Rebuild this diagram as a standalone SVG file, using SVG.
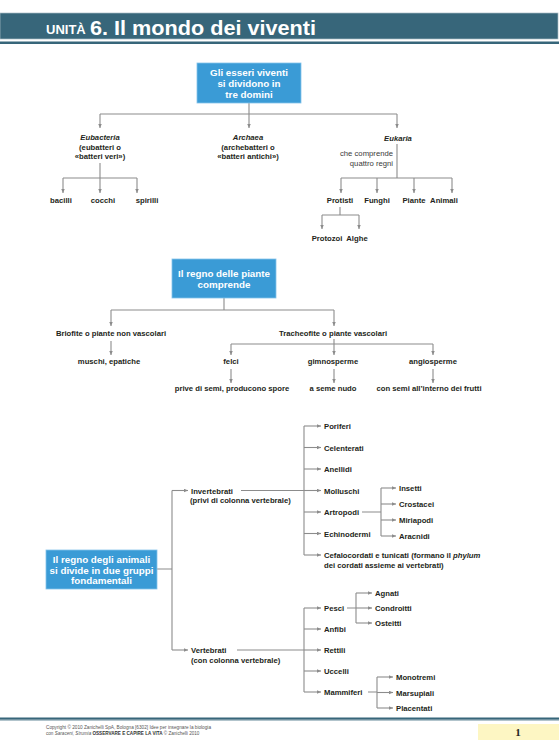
<svg xmlns="http://www.w3.org/2000/svg" width="559" height="755" viewBox="0 0 559 755">
<defs>
<style>
.t{font-family:"Liberation Sans",Arial,sans-serif;font-size:7.7px;font-weight:bold;fill:#231f20}
.m{text-anchor:middle}
.i{font-style:italic}
.r{font-weight:normal;fill:#3a3a3a}
.box{fill:#3a9bd6;stroke:#86c3ea;stroke-width:0.8}
.bt{font-family:"Liberation Sans",Arial,sans-serif;font-size:9.8px;font-weight:bold;fill:#ffffff;text-anchor:middle}
.c{stroke:#8c8c8c;stroke-width:1.1;fill:none}
.a{stroke:#8c8c8c;stroke-width:1.1;fill:none;marker-end:url(#ah)}
.ft{font-family:"Liberation Sans",Arial,sans-serif;font-size:4.6px;fill:#555}
</style>
<marker id="ah" markerUnits="userSpaceOnUse" markerWidth="5" markerHeight="4" refX="4.5" refY="2" orient="auto">
<path d="M0,0 L4.5,2 L0,4 z" fill="#8c8c8c"/>
</marker>
</defs>
<rect width="559" height="755" fill="#ffffff"/>

<g id="header">
<rect x="0" y="13" width="558" height="26" fill="#37667a" stroke="#a9bcc5" stroke-width="0.7"/>
<rect x="0" y="41.5" width="559" height="2.5" fill="#37667a"/>
<text x="46" y="34" font-family="'Liberation Sans',Arial,sans-serif" font-size="13" font-weight="bold" fill="#ffffff">UNITÀ</text>
<text x="90" y="34.5" font-family="'Liberation Sans',Arial,sans-serif" font-size="21" font-weight="bold" fill="#ffffff" textLength="226" lengthAdjust="spacingAndGlyphs">6. Il mondo dei viventi</text>
</g>

<g id="connectors">
<!-- domains -->
<path class="c" d="M249,103 V114 M100,114 H397"/>
<path class="a" d="M100,114 V128"/>
<path class="a" d="M249,114 V128"/>
<path class="a" d="M397,114 V128"/>
<path class="c" d="M100,163 V178 M63,178 H137"/>
<path class="a" d="M63,178 V193"/>
<path class="a" d="M100,178 V193"/>
<path class="a" d="M137,178 V193"/>
<path class="c" d="M397,144 V178 M341,178 H452"/>
<path class="a" d="M341,178 V193"/>
<path class="a" d="M377,178 V193"/>
<path class="a" d="M414,178 V193"/>
<path class="a" d="M452,178 V193"/>
<path class="c" d="M340,207 V215 M322,215 H359"/>
<path class="a" d="M322,215 V229"/>
<path class="a" d="M359,215 V229"/>
<!-- plants -->
<path class="c" d="M224,298 V310 M111,310 H334"/>
<path class="a" d="M111,310 V326"/>
<path class="a" d="M334,310 V326"/>
<path class="a" d="M111,341 V355"/>
<path class="c" d="M334,339 V344 M231,344 H433"/>
<path class="a" d="M231,344 V355"/>
<path class="a" d="M334,344 V355"/>
<path class="a" d="M433,344 V355"/>
<path class="a" d="M231,369 V383"/>
<path class="a" d="M334,369 V383"/>
<path class="a" d="M433,369 V383"/>
<!-- animals -->
<path class="c" d="M157,569 H172 M172,490.5 V650"/>
<path class="a" d="M172,490.5 H188"/>
<path class="a" d="M172,650 H188"/>
<path class="c" d="M241,490.5 H304 M304,426 V555"/>
<path class="a" d="M304,426 H321"/>
<path class="a" d="M304,447.5 H321"/>
<path class="a" d="M304,469 H321"/>
<path class="a" d="M304,490.5 H321"/>
<path class="a" d="M304,512 H321"/>
<path class="a" d="M304,533.5 H321"/>
<path class="a" d="M304,555 H321"/>
<path class="c" d="M362,512 H381 M381,488 V536"/>
<path class="a" d="M381,488 H396"/>
<path class="a" d="M381,504 H396"/>
<path class="a" d="M381,520 H396"/>
<path class="a" d="M381,536 H396"/>
<path class="c" d="M237,650 H304 M304,608 V692"/>
<path class="a" d="M304,608 H321"/>
<path class="a" d="M304,629 H321"/>
<path class="a" d="M304,650 H321"/>
<path class="a" d="M304,671 H321"/>
<path class="a" d="M304,692 H321"/>
<path class="c" d="M347,608 H356 M356,593 V623"/>
<path class="a" d="M356,593 H372"/>
<path class="a" d="M356,608 H372"/>
<path class="a" d="M356,623 H372"/>
<path class="c" d="M368,692 H377 M377,677 V708"/>
<path class="a" d="M377,677 H393"/>
<path class="a" d="M377,692.5 H393"/>
<path class="a" d="M377,708 H393"/>
</g>

<g id="n-domini">
<rect class="box" x="197" y="63" width="104" height="40"/>
<text class="bt" x="249" y="76">Gli esseri viventi</text>
<text class="bt" x="249" y="87">si dividono in</text>
<text class="bt" x="249" y="98">tre domini</text>
</g>
<g id="n-eubacteria">
<text class="t m i" x="100" y="140">Eubacteria</text>
<text class="t m" x="100" y="150">(eubatteri o</text>
<text class="t m" x="100" y="159">«batteri veri»)</text>
</g>
<g id="n-archaea">
<text class="t m i" x="248" y="140">Archaea</text>
<text class="t m" x="248" y="150">(archebatteri o</text>
<text class="t m" x="248" y="159">«batteri antichi»)</text>
</g>
<g id="n-eukaria">
<text class="t m i" x="398" y="141">Eukaria</text>
<text class="t r" x="393" y="156" text-anchor="end">che comprende</text>
<text class="t r" x="393" y="166" text-anchor="end">quattro regni</text>
</g>
<g id="n-bacilli"><text class="t m" x="61" y="203">bacilli</text></g>
<g id="n-cocchi"><text class="t m" x="103" y="203">cocchi</text></g>
<g id="n-spirilli"><text class="t m" x="147" y="203">spirilli</text></g>
<g id="n-protisti"><text class="t m" x="340" y="203">Protisti</text></g>
<g id="n-funghi"><text class="t m" x="377" y="203">Funghi</text></g>
<g id="n-piante"><text class="t m" x="414" y="203">Piante</text></g>
<g id="n-animali"><text class="t m" x="444" y="203">Animali</text></g>
<g id="n-protozoi"><text class="t m" x="327" y="241">Protozoi</text></g>
<g id="n-alghe"><text class="t m" x="357" y="241">Alghe</text></g>

<g id="n-regno-piante">
<rect class="box" x="172" y="259" width="104" height="39"/>
<text class="bt" x="224" y="276.5">Il regno delle piante</text>
<text class="bt" x="224" y="287.5">comprende</text>
</g>
<g id="n-briofite"><text class="t m" x="111" y="336">Briofite o piante non vascolari</text></g>
<g id="n-muschi"><text class="t m" x="109" y="364">muschi, epatiche</text></g>
<g id="n-tracheofite"><text class="t m" x="333" y="336">Tracheofite o piante vascolari</text></g>
<g id="n-felci"><text class="t m" x="231" y="364">felci</text></g>
<g id="n-gimnosperme"><text class="t m" x="333" y="364">gimnosperme</text></g>
<g id="n-angiosperme"><text class="t m" x="433" y="364">angiosperme</text></g>
<g id="n-prive"><text class="t m" x="232" y="391">prive di semi, producono spore</text></g>
<g id="n-seme-nudo"><text class="t m" x="333" y="391">a seme nudo</text></g>
<g id="n-con-semi"><text class="t m" x="429" y="391">con semi all’interno dei frutti</text></g>

<g id="n-regno-animali">
<rect class="box" x="46" y="550" width="111" height="39"/>
<text class="bt" x="101.5" y="562.5">Il regno degli animali</text>
<text class="bt" x="101.5" y="573.5">si divide in due gruppi</text>
<text class="bt" x="101.5" y="583.5">fondamentali</text>
</g>
<g id="n-invertebrati">
<text class="t" x="191" y="493.5">Invertebrati</text>
<text class="t" x="190" y="503">(privi di colonna vertebrale)</text>
</g>
<g id="n-poriferi"><text class="t" x="324" y="429">Poriferi</text></g>
<g id="n-celenterati"><text class="t" x="324" y="450.5">Celenterati</text></g>
<g id="n-anellidi"><text class="t" x="324" y="472">Anellidi</text></g>
<g id="n-molluschi"><text class="t" x="324" y="493.5">Molluschi</text></g>
<g id="n-artropodi"><text class="t" x="324" y="515">Artropodi</text></g>
<g id="n-echinodermi"><text class="t" x="324" y="536.5">Echinodermi</text></g>
<g id="n-cefalocordati">
<text class="t" x="324" y="558">Cefalocordati e tunicati (formano il <tspan class="i">phylum</tspan></text>
<text class="t" x="324" y="567.5">dei cordati assieme ai vertebrati)</text>
</g>
<g id="n-insetti"><text class="t" x="399" y="491">Insetti</text></g>
<g id="n-crostacei"><text class="t" x="399" y="507">Crostacei</text></g>
<g id="n-miriapodi"><text class="t" x="399" y="523">Miriapodi</text></g>
<g id="n-aracnidi"><text class="t" x="399" y="539">Aracnidi</text></g>
<g id="n-vertebrati">
<text class="t" x="191" y="653">Vertebrati</text>
<text class="t" x="191" y="663">(con colonna vertebrale)</text>
</g>
<g id="n-pesci"><text class="t" x="324" y="611">Pesci</text></g>
<g id="n-anfibi"><text class="t" x="324" y="632">Anfibi</text></g>
<g id="n-rettili"><text class="t" x="324" y="653">Rettili</text></g>
<g id="n-uccelli"><text class="t" x="324" y="674">Uccelli</text></g>
<g id="n-mammiferi"><text class="t" x="324" y="695">Mammiferi</text></g>
<g id="n-agnati"><text class="t" x="375" y="596">Agnati</text></g>
<g id="n-condroitti"><text class="t" x="375" y="611">Condroitti</text></g>
<g id="n-osteitti"><text class="t" x="375" y="626">Osteitti</text></g>
<g id="n-monotremi"><text class="t" x="396" y="680">Monotremi</text></g>
<g id="n-marsupiali"><text class="t" x="396" y="695.5">Marsupiali</text></g>
<g id="n-placentati"><text class="t" x="396" y="711">Placentati</text></g>

<g id="footer">
<rect x="0" y="717.5" width="559" height="2.2" fill="#37667a"/>
<rect x="0" y="720.2" width="559" height="0.8" fill="#9fb6c0"/>
<text class="ft" x="46" y="729" textLength="165" lengthAdjust="spacingAndGlyphs">Copyright © 2010 Zanichelli SpA, Bologna [6302] Idee per insegnare la biologia</text>
<text class="ft" x="46" y="734.5">con <tspan font-style="italic">Saraceni, Strumia</tspan> <tspan font-weight="bold" fill="#333">OSSERVARE E CAPIRE LA VITA</tspan> © Zanichelli 2010</text>
<rect x="478" y="724" width="81" height="16" fill="#fdf6c3"/>
<text x="518" y="736" font-family="'Liberation Serif','Times New Roman',serif" font-size="11" font-weight="bold" fill="#231f20" text-anchor="middle">1</text>
</g>
</svg>
